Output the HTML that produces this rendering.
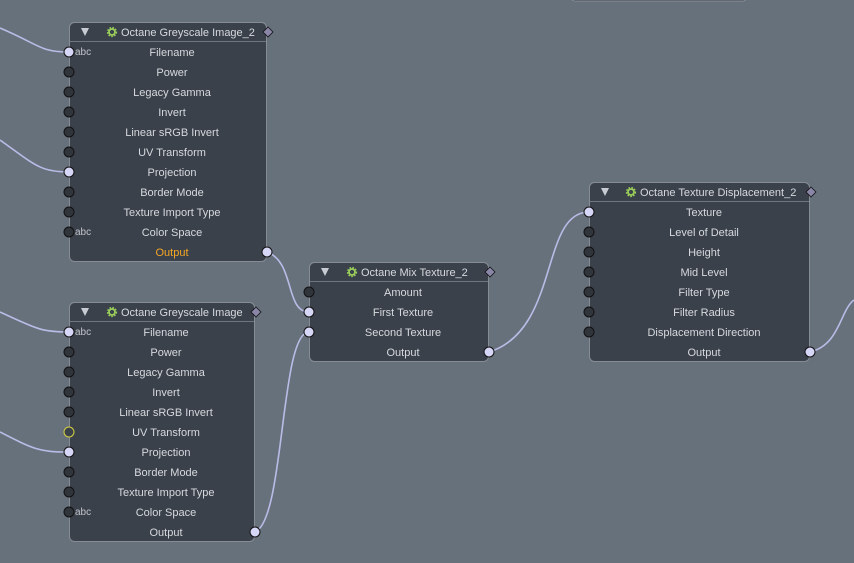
<!DOCTYPE html>
<html><head><meta charset="utf-8"><style>
html,body{margin:0;padding:0;background:#67717c;width:854px;height:563px;overflow:hidden}
svg{display:block}
text{font-family:"Liberation Sans",sans-serif;font-size:11px;fill:#d6dade}
.t{text-anchor:middle}
.abc{font-size:10px;fill:#c0c4ca}
circle{r:5}
</style></head><body>
<svg width="854" height="563" viewBox="0 0 854 563" xmlns="http://www.w3.org/2000/svg">
<defs>
<g id="gear"><circle r="3" fill="none" stroke="#9acd5a" stroke-width="1.8" style="r:3"/><circle r="4.4" fill="none" stroke="#9acd5a" stroke-width="1.5" stroke-dasharray="1.6 1.4" style="r:4.4"/></g>
</defs>
<g fill="none" stroke="#b9bce6" stroke-width="1.6">
<path d="M0,28 C40,45 40,52 69,52"/>
<path d="M0,140 C35,165 40,172 69,172"/>
<path d="M0,312 C35,328 40,332 69,332"/>
<path d="M0,432 C35,450 40,452 69,452"/>
<path d="M267,252 C295,262 285,312 309,312"/>
<path d="M255,532 C285,520 280,332 309,332"/>
<path d="M489,352 C560,330 540,212 589,212"/>
<path d="M810,352 C840,345 840,310 854,300"/>
</g>
<rect x="571" y="-20" width="176" height="21" rx="4" fill="#3b414b" stroke="#8a9098" stroke-width="1"/>

<g>
<rect x="69.5" y="22.5" width="197" height="239" rx="5" fill="#3b414b" stroke="#868c94"/>
<line x1="70" y1="41.5" x2="266" y2="41.5" stroke="#6f7680"/>
<path d="M81,28 L89,28 L85,36 Z" fill="#c8ccd2"/>
<use href="#gear" x="112" y="32"/>
<text x="121" y="36">Octane Greyscale Image_2</text>
<path d="M268,27 L273,32 L268,37 L263,32 Z" fill="#8a86a8" stroke="#111" stroke-width="0.8"/>
<text x="172" y="56" class="t">Filename</text>
<text x="172" y="76" class="t">Power</text>
<text x="172" y="96" class="t">Legacy Gamma</text>
<text x="172" y="116" class="t">Invert</text>
<text x="172" y="136" class="t">Linear sRGB Invert</text>
<text x="172" y="156" class="t">UV Transform</text>
<text x="172" y="176" class="t">Projection</text>
<text x="172" y="196" class="t">Border Mode</text>
<text x="172" y="216" class="t">Texture Import Type</text>
<text x="172" y="236" class="t">Color Space</text>
<text x="172" y="256" class="t" style="fill:#f5a623">Output</text>
<text x="75" y="55" class="abc">abc</text>
<text x="75" y="235" class="abc">abc</text>
<g stroke="#111" stroke-width="1">
<circle cx="69" cy="52" r="5" fill="#d6d6f6"/>
<circle cx="69" cy="72" r="5" fill="#30353c"/>
<circle cx="69" cy="92" r="5" fill="#30353c"/>
<circle cx="69" cy="112" r="5" fill="#30353c"/>
<circle cx="69" cy="132" r="5" fill="#30353c"/>
<circle cx="69" cy="152" r="5" fill="#30353c"/>
<circle cx="69" cy="172" r="5" fill="#d6d6f6"/>
<circle cx="69" cy="192" r="5" fill="#30353c"/>
<circle cx="69" cy="212" r="5" fill="#30353c"/>
<circle cx="69" cy="232" r="5" fill="#30353c"/>
<circle cx="267" cy="252" r="5" fill="#d6d6f6"/>
</g>
</g>

<g>
<rect x="69.5" y="302.5" width="185" height="239" rx="5" fill="#3b414b" stroke="#868c94"/>
<line x1="70" y1="321.5" x2="254" y2="321.5" stroke="#6f7680"/>
<path d="M81,308 L89,308 L85,316 Z" fill="#c8ccd2"/>
<use href="#gear" x="112" y="312"/>
<text x="121" y="316">Octane Greyscale Image</text>
<path d="M256,307 L261,312 L256,317 L251,312 Z" fill="#8a86a8" stroke="#111" stroke-width="0.8"/>
<text x="166" y="336" class="t">Filename</text>
<text x="166" y="356" class="t">Power</text>
<text x="166" y="376" class="t">Legacy Gamma</text>
<text x="166" y="396" class="t">Invert</text>
<text x="166" y="416" class="t">Linear sRGB Invert</text>
<text x="166" y="436" class="t">UV Transform</text>
<text x="166" y="456" class="t">Projection</text>
<text x="166" y="476" class="t">Border Mode</text>
<text x="166" y="496" class="t">Texture Import Type</text>
<text x="166" y="516" class="t">Color Space</text>
<text x="166" y="536" class="t">Output</text>
<text x="75" y="335" class="abc">abc</text>
<text x="75" y="515" class="abc">abc</text>
<g stroke="#111" stroke-width="1">
<circle cx="69" cy="332" r="5" fill="#d6d6f6"/>
<circle cx="69" cy="352" r="5" fill="#30353c"/>
<circle cx="69" cy="372" r="5" fill="#30353c"/>
<circle cx="69" cy="392" r="5" fill="#30353c"/>
<circle cx="69" cy="412" r="5" fill="#30353c"/>
<circle cx="69" cy="432" r="5" fill="#3b414b" stroke="#d4d040"/>
<circle cx="69" cy="452" r="5" fill="#d6d6f6"/>
<circle cx="69" cy="472" r="5" fill="#30353c"/>
<circle cx="69" cy="492" r="5" fill="#30353c"/>
<circle cx="69" cy="512" r="5" fill="#30353c"/>
<circle cx="255" cy="532" r="5" fill="#d6d6f6"/>
</g>
</g>

<g>
<rect x="309.5" y="262.5" width="179" height="99" rx="5" fill="#3b414b" stroke="#868c94"/>
<line x1="310" y1="281.5" x2="488" y2="281.5" stroke="#6f7680"/>
<path d="M321,268 L329,268 L325,276 Z" fill="#c8ccd2"/>
<use href="#gear" x="352" y="272"/>
<text x="361" y="276">Octane Mix Texture_2</text>
<path d="M490,267 L495,272 L490,277 L485,272 Z" fill="#8a86a8" stroke="#111" stroke-width="0.8"/>
<text x="403" y="296" class="t">Amount</text>
<text x="403" y="316" class="t">First Texture</text>
<text x="403" y="336" class="t">Second Texture</text>
<text x="403" y="356" class="t">Output</text>
<g stroke="#111" stroke-width="1">
<circle cx="309" cy="292" r="5" fill="#30353c"/>
<circle cx="309" cy="312" r="5" fill="#d6d6f6"/>
<circle cx="309" cy="332" r="5" fill="#d6d6f6"/>
<circle cx="489" cy="352" r="5" fill="#d6d6f6"/>
</g>
</g>

<g>
<rect x="589.5" y="182.5" width="220" height="179" rx="5" fill="#3b414b" stroke="#868c94"/>
<line x1="590" y1="201.5" x2="809" y2="201.5" stroke="#6f7680"/>
<path d="M601,188 L609,188 L605,196 Z" fill="#c8ccd2"/>
<use href="#gear" x="631" y="192"/>
<text x="640" y="196">Octane Texture Displacement_2</text>
<path d="M811,187 L816,192 L811,197 L806,192 Z" fill="#8a86a8" stroke="#111" stroke-width="0.8"/>
<text x="704" y="216" class="t">Texture</text>
<text x="704" y="236" class="t">Level of Detail</text>
<text x="704" y="256" class="t">Height</text>
<text x="704" y="276" class="t">Mid Level</text>
<text x="704" y="296" class="t">Filter Type</text>
<text x="704" y="316" class="t">Filter Radius</text>
<text x="704" y="336" class="t">Displacement Direction</text>
<text x="704" y="356" class="t">Output</text>
<g stroke="#111" stroke-width="1">
<circle cx="589" cy="212" r="5" fill="#d6d6f6"/>
<circle cx="589" cy="232" r="5" fill="#30353c"/>
<circle cx="589" cy="252" r="5" fill="#30353c"/>
<circle cx="589" cy="272" r="5" fill="#30353c"/>
<circle cx="589" cy="292" r="5" fill="#30353c"/>
<circle cx="589" cy="312" r="5" fill="#30353c"/>
<circle cx="589" cy="332" r="5" fill="#30353c"/>
<circle cx="810" cy="352" r="5" fill="#d6d6f6"/>
</g>
</g>
</svg>
</body></html>
